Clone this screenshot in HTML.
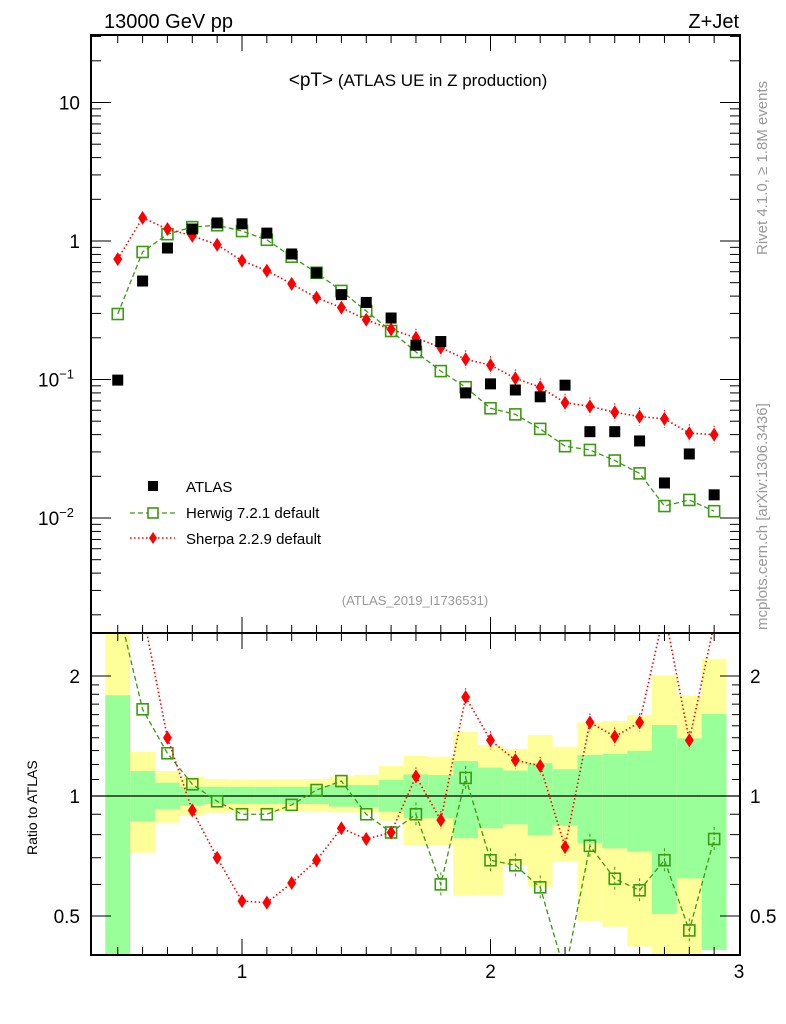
<!DOCTYPE html>
<html><head><meta charset="utf-8"><style>
body{margin:0;background:#fff;}
svg{display:block;font-family:"Liberation Sans",sans-serif;}
</style></head><body>
<svg id="chart" width="786" height="1024" viewBox="0 0 786 1024" xmlns="http://www.w3.org/2000/svg">
<defs>
<clipPath id="mainclip"><rect x="91" y="35" width="649" height="598"/></clipPath>
<clipPath id="ratioclip"><rect x="91" y="633" width="649" height="322"/></clipPath>
</defs>
<g id="bands" clip-path="url(#ratioclip)"></g>
<g id="marks"></g>
<rect x="91" y="35" width="649" height="598" fill="none" stroke="#000" stroke-width="2"/>
<rect x="91" y="633" width="649" height="322" fill="none" stroke="#000" stroke-width="2"/>
<g id="ticks"></g>
<text x="104" y="28" font-size="20">13000 GeV pp</text>
<text x="739" y="28" font-size="20" text-anchor="end">Z+Jet</text>
<text x="418" y="86" font-size="17" text-anchor="middle"><tspan font-size="19">&lt;pT&gt;</tspan> (ATLAS UE in Z production)</text>
<text x="415" y="605" font-size="13" fill="#999" text-anchor="middle">(ATLAS_2019_I1736531)</text>
<text transform="translate(767,255) rotate(-90)" font-size="15" fill="#999">Rivet 4.1.0, ≥ 1.8M events</text>
<text transform="translate(767,630) rotate(-90)" font-size="15" fill="#999">mcplots.cern.ch [arXiv:1306.3436]</text>
<text transform="translate(37,855) rotate(-90)" font-size="14">Ratio to ATLAS</text>
<g>
<rect x="148" y="481" width="10" height="10" fill="#000"/>
<text x="186" y="492" font-size="15">ATLAS</text>
<line x1="130" y1="513" x2="175" y2="513" stroke="#3a9a10" stroke-width="1.3" stroke-dasharray="5,3"/>
<rect x="148" y="508" width="10" height="10" fill="#fff" stroke="#3a9a10" stroke-width="1.6"/>
<text x="186" y="518" font-size="15">Herwig 7.2.1 default</text>
<line x1="130" y1="538" x2="175" y2="538" stroke="#f00" stroke-width="1.5" stroke-dasharray="1.5,2.5"/>
<path d="M153,532 L157,538 L153,544 L149,538Z" fill="#f00"/>
<text x="186" y="544" font-size="15">Sherpa 2.2.9 default</text>
</g>
</svg>
<script>
const xs=[0.5,0.6,0.7,0.8,0.9,1.0,1.1,1.2,1.3,1.4,1.5,1.6,1.7,1.8,1.9,2.0,2.1,2.2,2.3,2.4,2.5,2.6,2.7,2.8,2.9];
const atlas=[0.099,0.514,0.89,1.22,1.35,1.33,1.14,0.806,0.589,0.41,0.36,0.278,0.177,0.188,0.080,0.093,0.084,0.075,0.091,0.042,0.042,0.036,0.0179,0.029,0.0147];
const herwig=[0.297,0.833,1.12,1.26,1.30,1.18,1.02,0.77,0.59,0.436,0.312,0.224,0.158,0.115,0.088,0.062,0.056,0.044,0.033,0.031,0.026,0.021,0.0122,0.0135,0.0112];
const sherpa=[0.74,1.47,1.22,1.09,0.94,0.72,0.61,0.49,0.39,0.33,0.27,0.23,0.20,0.17,0.14,0.127,0.102,0.088,0.068,0.064,0.058,0.054,0.052,0.041,0.040];
const herwigRatio=[3.0,1.65,1.28,1.07,0.97,0.90,0.90,0.95,1.035,1.09,0.90,0.81,0.90,0.60,1.11,0.69,0.67,0.59,0.36,0.75,0.62,0.58,0.69,0.46,0.78];
const sherpaRatio=[7.0,2.9,1.40,0.92,0.70,0.545,0.54,0.605,0.69,0.83,0.78,0.81,1.12,0.87,1.77,1.38,1.23,1.19,0.745,1.53,1.41,1.53,2.9,1.38,2.7];
const yellowHi=[2.6,1.29,1.155,1.118,1.103,1.10,1.10,1.10,1.103,1.12,1.13,1.189,1.26,1.255,1.45,1.342,1.312,1.422,1.33,1.53,1.543,1.597,2.01,1.785,2.21];
const yellowLo=[0.39,0.721,0.857,0.896,0.908,0.915,0.915,0.915,0.913,0.91,0.908,0.867,0.753,0.753,0.562,0.562,0.671,0.592,0.685,0.486,0.47,0.419,0.39,0.39,0.411];
const greenHi=[1.79,1.155,1.08,1.055,1.055,1.055,1.055,1.055,1.055,1.066,1.066,1.097,1.133,1.129,1.224,1.178,1.158,1.208,1.167,1.268,1.275,1.299,1.507,1.395,1.606];
const greenLo=[0.39,0.862,0.926,0.946,0.955,0.955,0.955,0.955,0.955,0.94,0.937,0.913,0.879,0.879,0.783,0.830,0.849,0.798,0.843,0.761,0.739,0.725,0.506,0.621,0.411];
const xTicks=[1,2,3];
const mainYTicks=[{v:10,t:"10"},{v:1,t:"1"},{v:0.1,t:"10",e:"−1"},{v:0.01,t:"10",e:"−2"}];
const ratioTicks=[{v:2,t:"2"},{v:1,t:"1"},{v:0.5,t:"0.5"}];

const NS="http://www.w3.org/2000/svg";
const X=v=>242+(v-1)*248.5;
const Y=v=>241-Math.log10(v)*138.5;
const R=v=>796-Math.log10(v)*398.6;
function mk(tag,attrs,parent){const e=document.createElementNS(NS,tag);for(const k in attrs)e.setAttribute(k,attrs[k]);parent.appendChild(e);return e;}
const bands=document.getElementById('bands'),marks=document.getElementById('marks'),ticks=document.getElementById('ticks');

xs.forEach((x,i)=>{
  const x0=X(x-0.05),w=X(x+0.05)-x0;
  let r=mk('rect',{x:x0,y:R(yellowHi[i]),width:w,height:R(yellowLo[i])-R(yellowHi[i]),fill:'#ffff99'},bands);
  
  
  r=mk('rect',{x:x0,y:R(greenHi[i]),width:w,height:R(greenLo[i])-R(greenHi[i]),fill:'#99ff99'},bands);
  
  
});
let ln=mk('line',{x1:91,x2:740,y1:R(1),y2:R(1),stroke:'#000','stroke-width':1.2},marks);



const gMain=mk('g',{'clip-path':'url(#mainclip)'},marks);
const gRat=mk('g',{'clip-path':'url(#ratioclip)'},marks);
function series(g,vals,yf,color,dash,shape,name){
  const p=mk('polyline',{points:xs.map((x,i)=>X(x)+','+yf(vals[i])).join(' '),fill:'none',stroke:color,'stroke-width':shape==='d'?1.6:1.3,'stroke-dasharray':dash},g);
  
  
  xs.forEach((x,i)=>{
    const cx=X(x),cy=yf(vals[i]);let m;
    if(shape==='d'){
      if(x>=1.7){mk('line',{x1:cx,x2:cx,y1:cy-9,y2:cy+9,stroke:color,'stroke-width':1,'stroke-dasharray':'1.5,2'},g);}
      m=mk('path',{d:`M${cx},${cy-7}L${cx+4.5},${cy}L${cx},${cy+7}L${cx-4.5},${cy}Z`,fill:color},g);
    } else {
      if(x>=1.7&&yf===R){mk('line',{x1:cx,x2:cx,y1:cy-12,y2:cy+12,stroke:color,'stroke-width':1,'stroke-dasharray':'3,2'},g);}
      m=mk('rect',{x:cx-5.5,y:cy-5.5,width:11,height:11,fill:'#fff','fill-opacity':0.01,stroke:color,'stroke-width':1.6},g);
    }
    
    
  });
}
series(gMain,herwig,Y,'#3a9a10','5,3','s','herwig');
series(gMain,sherpa,Y,'#ff0000','1.5,2.5','d','sherpa');
xs.forEach((x,i)=>{
  const m=mk('rect',{x:X(x)-5.5,y:Y(atlas[i])-5.5,width:11,height:11,fill:'#000'},gMain);
  
  
});
series(gRat,herwigRatio,R,'#3a9a10','5,3','s','herwig-ratio');
series(gRat,sherpaRatio,R,'#ff0000','1.5,2.5','d','sherpa-ratio');

for(let k=5;k<=29;k++){
  const v=k/10,x=X(v),major=(k%10===0),L=major?16:8;
  [[35,1],[633,-1],[633,1],[955,-1]].forEach(([y,d])=>mk('line',{x1:x,x2:x,y1:y,y2:y+d*L,stroke:'#000','stroke-width':1},ticks));
}
xTicks.forEach(v=>{
  const t=mk('text',{x:X(v),y:978,'font-size':19,'text-anchor':'middle'},ticks);t.textContent=v;
  
  
});
for(let d=-3;d<=1;d++){
  for(let m=1;m<=9;m++){
    const v=m*Math.pow(10,d),y=Y(v);if(y<35||y>633)continue;
    const L=m===1?20:10;
    mk('line',{x1:91,x2:91+L,y1:y,y2:y,stroke:'#000'},ticks);
    mk('line',{x1:740,x2:740-L,y1:y,y2:y,stroke:'#000'},ticks);
  }
}
mainYTicks.forEach(o=>{
  const t=mk('text',{x:o.e?74:80,y:Y(o.v)+7,'font-size':19,'text-anchor':'end'},ticks);
  t.textContent=o.t;
  if(o.e){const s=mk('tspan',{dy:-8,'font-size':13},t);s.textContent=o.e;}
  
  
});
[0.4,0.5,0.6,0.7,0.8,0.9,1,2].forEach(v=>{const y=R(v),L=(v===0.5||v===1||v===2)?20:10;
  mk('line',{x1:91,x2:91+L,y1:y,y2:y,stroke:'#000'},ticks);mk('line',{x1:740,x2:740-L,y1:y,y2:y,stroke:'#000'},ticks);});
[1.1,1.2,1.3,1.4,1.5,1.6,1.7,1.8,1.9].forEach(v=>{const y=R(v);
  mk('line',{x1:91,x2:99,y1:y,y2:y,stroke:'#000'},ticks);mk('line',{x1:740,x2:732,y1:y,y2:y,stroke:'#000'},ticks);});
ratioTicks.forEach(o=>{
  let t=mk('text',{x:80,y:R(o.v)+7,'font-size':19,'text-anchor':'end'},ticks);t.textContent=o.t;
  
  
  t=mk('text',{x:750,y:R(o.v)+7,'font-size':19},ticks);t.textContent=o.t;
  
  
});
</script>
</body></html>
